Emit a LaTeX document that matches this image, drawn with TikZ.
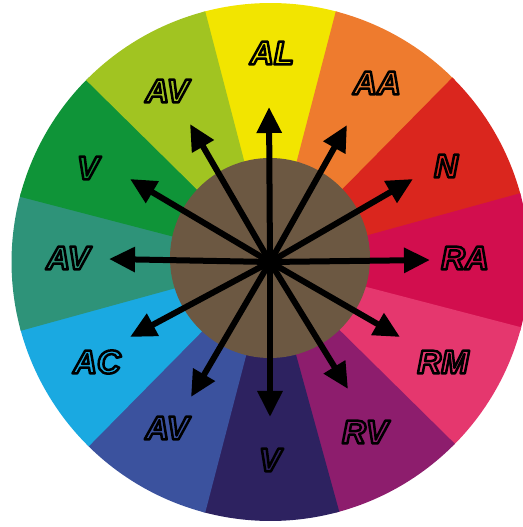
\documentclass[tikz,border=0pt]{standalone}
\usepackage{fontspec}
\setmainfont{Liberation Sans}
\usetikzlibrary{arrows.meta}
\definecolor{cYel}{HTML}{F2E500}
\definecolor{cOra}{HTML}{EE7B2E}
\definecolor{cRed}{HTML}{DA261E}
\definecolor{cCri}{HTML}{D20E4E}
\definecolor{cPnk}{HTML}{E5376E}
\definecolor{cPur}{HTML}{8D1D6D}
\definecolor{cNav}{HTML}{2D2260}
\definecolor{cBlu}{HTML}{3B529E}
\definecolor{cCya}{HTML}{1AA9E1}
\definecolor{cTea}{HTML}{2E9379}
\definecolor{cGrn}{HTML}{0F9438}
\definecolor{cYgr}{HTML}{A1C421}
\definecolor{cBrn}{HTML}{6C5842}
\newcommand{\outl}[1]{\special{pdf:literal direct q 0 G 2 Tr 2.5 w 1 j}#1\special{pdf:literal direct Q}}
\tikzset{
  lbl/.style={font=\fontsize{33}{33}\selectfont\bfseries\itshape, inner sep=0pt, anchor=center},
  spoke/.style={line width=6pt, -{Triangle[length=26pt,width=24pt]}},
}
\newcommand{\wedgefill}[2]{%
  \fill[#2] (C) -- ++(#1-15.4:259) arc[start angle=#1-15.4, end angle=#1+15.4, radius=259] -- cycle;}
\begin{document}
\begin{tikzpicture}[x=1pt,y=1pt]
\useasboundingbox (0,0) rectangle (522,527);
\coordinate (C) at (270.5,265);
% wedges
\wedgefill{90}{cYel}
\wedgefill{60}{cOra}
\wedgefill{30}{cRed}
\wedgefill{0}{cCri}
\wedgefill{-30}{cPnk}
\wedgefill{-60}{cPur}
\wedgefill{-90}{cNav}
\wedgefill{-120}{cBlu}
\wedgefill{-150}{cCya}
\wedgefill{180}{cTea}
\wedgefill{150}{cGrn}
\wedgefill{120}{cYgr}
% hub
\node[circle, fill=cBrn, minimum size=200pt, inner sep=0pt] (hub) at (270,269) {};
% arrows
\coordinate (O) at (270,265);
\coordinate (t090) at (269,420);
\coordinate (t060) at (347,402);
\coordinate (t030) at (413,348);
\coordinate (t000) at (430,267);
\coordinate (tm30) at (400,190);
\coordinate (tm60) at (348,138);
\coordinate (tm90) at (270,110);
\coordinate (tm120) at (191,130);
\coordinate (tm150) at (130,190);
\coordinate (t180) at (109,268);
\coordinate (t150) at (130,348);
\coordinate (t120) at (190,403);
\foreach \t in {t090,t060,t030,t000,tm30,tm60,tm90,tm120,tm150,t180,t150,t120}
  \draw[spoke] (O) -- (\t);
\node[circle, fill=black, minimum size=20pt, inner sep=0pt] (dot) at (O) {};
% labels
\node[lbl, text=cYel] (lAL) at (272,474) {\outl{AL}};
\node[lbl, text=cOra] (lAA) at (377,444) {\outl{AA}};
\node[lbl, text=cRed] (lN) at (446,361) {\outl{N}};
\node[lbl, text=cCri] (lRA) at (465,269) {\outl{RA}};
\node[lbl, text=cPnk] (lRM) at (443,165) {\outl{RM}};
\node[lbl, text=cPur] (lRV) at (365,95) {\outl{RV}};
\node[lbl, text=cNav] (lV1) at (270,67) {\outl{V}};
\node[lbl, text=cBlu] (lAV1) at (167,99) {\outl{AV}};
\node[lbl, text=cCya] (lAC) at (97,165) {\outl{AC}};
\node[lbl, text=cTea] (lAV2) at (68,269) {\outl{AV}};
\node[lbl, text=cGrn] (lV2) at (88,359) {\outl{V}};
\node[lbl, text=cYgr] (lAV3) at (167,436) {\outl{AV}};
\end{tikzpicture}
\end{document}
